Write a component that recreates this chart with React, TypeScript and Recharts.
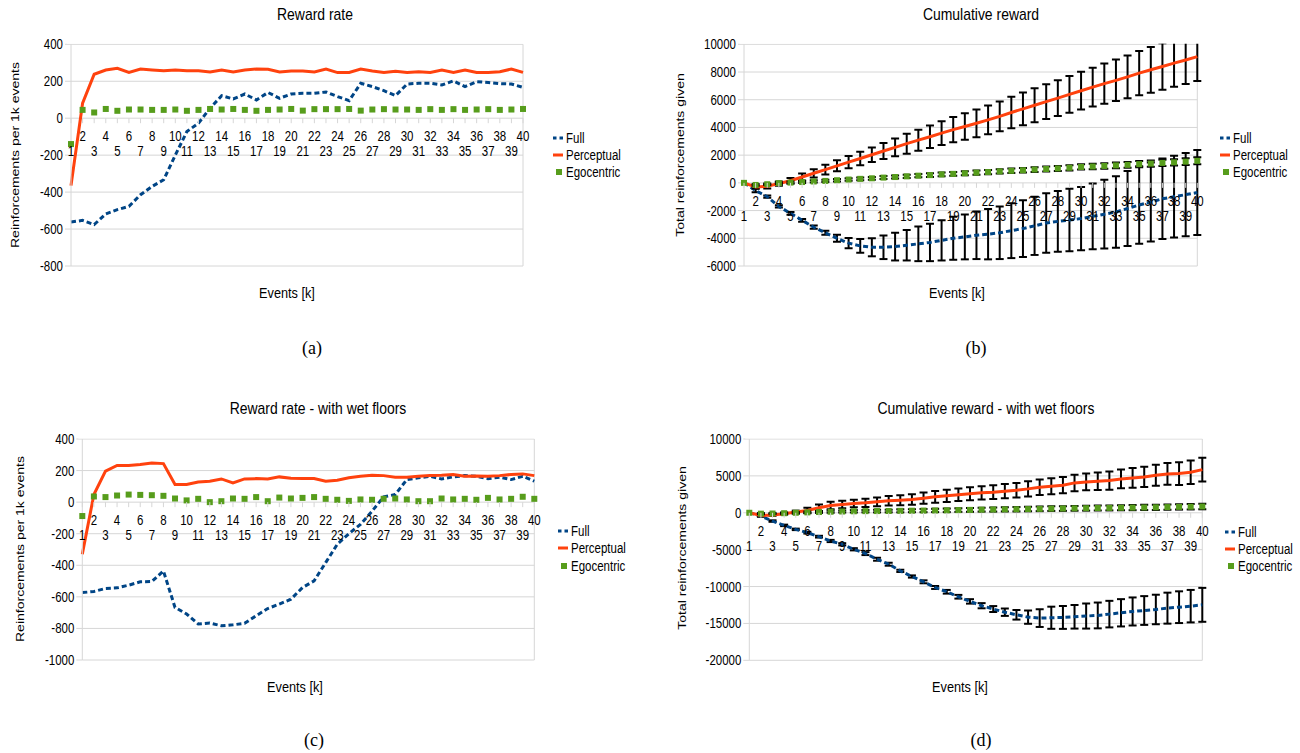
import React from "react";
import {
  LineChart,
  Line,
  XAxis,
  YAxis,
  CartesianGrid,
  ErrorBar,
  ReferenceLine,
} from "recharts";

// ── Data ───────────────────────────────────────────────────────────

const EVENTS = [
  1, 2, 3, 4, 5, 6, 7, 8, 9, 10, 11, 12, 13, 14, 15, 16, 17, 18, 19, 20,
  21, 22, 23, 24, 25, 26, 27, 28, 29, 30, 31, 32, 33, 34, 35, 36, 37, 38, 39, 40,
];

// (a) reward rate
const RATE_FULL = [
  -562, -553, -576, -518, -495, -477, -414, -369, -333, -200, -72, -27, 54, 122, 104, 131, 99, 139, 108, 131,
  135, 135, 142, 117, 95, 189, 171, 149, 122, 185, 189, 189, 180, 202, 171, 198, 193, 187, 185, 167,
];
const RATE_PERCEPTUAL = [
  -365, 81, 238, 261, 270, 248, 266, 261, 257, 261, 257, 257, 250, 261, 250, 261, 266, 265, 250, 256,
  256, 250, 266, 247, 248, 266, 256, 248, 254, 248, 252, 248, 261, 248, 261, 247, 247, 252, 266, 248,
];
const RATE_EGO = [
  -140, 45, 31, 50, 40, 47, 47, 45, 45, 47, 40, 45, 50, 47, 50, 45, 40, 45, 47, 50,
  41, 49, 49, 49, 50, 41, 47, 49, 47, 47, 45, 49, 45, 49, 45, 47, 49, 45, 47, 50,
];

// (b) cumulative reward
const CUM_FULL = [
  0, -550, -1000, -1700, -2200, -2700, -3200, -3600, -4000, -4350, -4550, -4650, -4650, -4600, -4500, -4400, -4300, -4150, -4000, -3900,
  -3780, -3700, -3600, -3450, -3300, -3100, -2900, -2780, -2680, -2580, -2420, -2260, -2100, -1850, -1600, -1380, -1150, -1000, -850, -700,
];
const CUM_FULL_ERR = [
  0, 120, 80, 80, 100, 100, 120, 150, 250, 370, 500, 650, 850, 1000, 1100, 1250, 1350, 1450, 1550, 1620,
  1720, 1820, 1900, 1980, 2050, 2100, 2150, 2200, 2250, 2290, 2380, 2480, 2580, 2700, 2800, 2850, 2900, 2950, 3000, 3070,
];
const CUM_PERCEPTUAL = [
  0, -300, -250, -50, 150, 420, 690, 960, 1230, 1500, 1760, 2030, 2300, 2560, 2830, 3080, 3330, 3590, 3840, 4070,
  4300, 4550, 4800, 5080, 5340, 5600, 5860, 6120, 6390, 6650, 6910, 7160, 7400, 7650, 7920, 8160, 8400, 8640, 8870, 9110,
];
const CUM_PERCEPTUAL_ERR = [
  0, 100, 150, 150, 200, 250, 300, 350, 400, 440, 480, 530, 580, 640, 720, 760, 810, 860, 910, 960,
  1000, 1040, 1080, 1130, 1180, 1220, 1260, 1290, 1330, 1360, 1400, 1450, 1500, 1550, 1600, 1650, 1680, 1700, 1730, 1760,
];
const CUM_EGO = [
  0, -150, -100, -20, 20, 60, 100, 140, 190, 240, 290, 330, 380, 420, 470, 520, 560, 610, 650, 690,
  740, 780, 830, 870, 910, 960, 1000, 1040, 1090, 1150, 1180, 1220, 1260, 1300, 1350, 1390, 1440, 1480, 1530, 1590,
];
const CUM_EGO_ERR = [
  0, 60, 60, 60, 70, 70, 80, 80, 90, 90, 100, 100, 110, 110, 120, 120, 130, 130, 140, 140,
  150, 150, 160, 160, 170, 170, 180, 180, 190, 190, 200, 200, 210, 210, 220, 220, 230, 230, 240, 250,
];

// (c) reward rate - with wet floors
const WET_RATE_FULL = [
  -573, -566, -547, -543, -526, -505, -503, -436, -667, -709, -772, -766, -783, -777, -768, -720, -674, -646, -615, -541,
  -499, -383, -267, -200, -141, -57, 34, 48, 143, 154, 164, 147, 160, 168, 164, 149, 158, 143, 164, 133,
];
const WET_RATE_PERCEPTUAL = [
  -330, 48, 196, 232, 232, 238, 248, 244, 112, 112, 128, 133, 147, 122, 147, 149, 147, 160, 152, 149,
  149, 133, 139, 154, 164, 170, 168, 158, 158, 164, 168, 170, 175, 164, 166, 164, 168, 175, 179, 168,
];
const WET_RATE_EGO = [
  -88, 36, 32, 42, 48, 46, 44, 40, 23, 11, 21, 0, 6, 23, 21, 32, 6, 29, 23, 27,
  32, 21, 15, 8, 17, 15, 21, 23, 17, 6, 6, 23, 17, 21, 15, 27, 17, 21, 34, 21,
];

// (d) cumulative reward - with wet floors
const WET_CUM_FULL = [
  0, -450, -1125, -1710, -2250, -2700, -3240, -3825, -4275, -4950, -5535, -6300, -6975, -7875, -8640, -9360, -10125, -10710, -11385, -12015,
  -12600, -13050, -13480, -13830, -14150, -14280, -14230, -14190, -14100, -14000, -13920, -13740, -13560, -13380, -13250, -13110, -12930, -12800, -12660, -12480,
];
const WET_CUM_FULL_ERR = [
  0, 100, 100, 100, 100, 120, 120, 150, 150, 150, 200, 200, 200, 150, 150, 200, 200, 250, 250, 300,
  350, 400, 500, 650, 900, 1200, 1500, 1550, 1600, 1700, 1750, 1800, 1850, 1900, 1950, 2000, 2100, 2150, 2200, 2300,
];
const WET_CUM_PERCEPTUAL = [
  0, -360, -315, -135, 90, 315, 675, 990, 1125, 1260, 1350, 1485, 1620, 1710, 1800, 1980, 2160, 2295, 2430, 2565,
  2700, 2790, 2925, 3060, 3240, 3465, 3600, 3735, 4050, 4185, 4275, 4365, 4590, 4725, 4860, 5085, 5265, 5310, 5490, 5850,
];
const WET_CUM_PERCEPTUAL_ERR = [
  0, 80, 100, 120, 200, 350, 450, 500, 500, 520, 560, 600, 640, 680, 720, 760, 800, 830, 850, 880,
  900, 930, 960, 990, 1020, 1050, 1080, 1100, 1120, 1140, 1180, 1230, 1280, 1330, 1380, 1430, 1480, 1530, 1580, 1620,
];
const WET_CUM_EGO = [
  0, -120, -100, -60, 0, 50, 100, 140, 170, 200, 220, 230, 240, 260, 280, 300, 310, 330, 360, 390,
  420, 440, 460, 480, 500, 530, 560, 580, 600, 620, 640, 660, 680, 700, 720, 740, 770, 800, 820, 850,
];
const WET_CUM_EGO_ERR = [
  0, 80, 80, 100, 100, 120, 120, 140, 140, 160, 160, 180, 180, 200, 200, 220, 220, 240, 240, 260,
  260, 280, 280, 300, 300, 310, 310, 320, 320, 330, 330, 340, 340, 350, 350, 360, 360, 370, 370, 380,
];

const RATE_TICKS = [-800, -600, -400, -200, 0, 200, 400];
const CUM_TICKS = [-6000, -4000, -2000, 0, 2000, 4000, 6000, 8000, 10000];
const WET_RATE_TICKS = [-1000, -800, -600, -400, -200, 0, 200, 400];
const WET_CUM_TICKS = [-20000, -15000, -10000, -5000, 0, 5000, 10000];

// ── Style ──────────────────────────────────────────────────────────

const FULL_COLOR = "#004586";
const PERC_COLOR = "#ff420e";
const EGO_COLOR = "#579d1c";
const GRID = "#d6d6d6";
const FONT = "'Liberation Sans', Arial, sans-serif";
const SERIF = "'Liberation Serif', 'Times New Roman', serif";
const SQUEEZE = 0.82; // the source figure is squeezed horizontally
const Y_AXIS_W = 60;
const X_AXIS_H = 20;

type Row = Record<string, number>;

function buildRows(
  full: number[],
  perc: number[],
  ego: number[],
  fullErr?: number[],
  percErr?: number[],
  egoErr?: number[]
): Row[] {
  return EVENTS.map((k, i) => ({
    k,
    full: full[i],
    perc: perc[i],
    ego: ego[i],
    fullErr: fullErr ? fullErr[i] : 0,
    percErr: percErr ? percErr[i] : 0,
    egoErr: egoErr ? egoErr[i] : 0,
  }));
}

const EgoDot = (p: any) => {
  if (p.cx == null || p.cy == null) return <g key={`ed${p.index}`} />;
  return (
    <rect
      key={`ed${p.index}`}
      x={p.cx - 3}
      y={p.cy - 3}
      width={6}
      height={6}
      fill={EGO_COLOR}
    />
  );
};

const YTick = (props: any) => {
  const { x, y, payload } = props;
  return (
    <text
      transform={`translate(${x},${y}) scale(${SQUEEZE},1)`}
      textAnchor="end"
      dy="0.355em"
      fontSize={14}
      fontFamily={FONT}
      fill="#000"
    >
      {payload.value}
    </text>
  );
};

interface PanelProps {
  left: number;
  top: number;
  width: number;
  height: number;
  plotLeft: number;
  plotRight: number;
  plotTop: number;
  plotBottom: number;
  rows: Row[];
  ticks: number[];
  errors?: boolean;
}

function Panel({
  left,
  top,
  width,
  height,
  plotLeft,
  plotRight,
  plotTop,
  plotBottom,
  rows,
  ticks,
  errors,
}: PanelProps) {
  const min = ticks[0];
  const max = ticks[ticks.length - 1];
  const margin = {
    top: plotTop - top,
    right: left + width - plotRight,
    bottom: top + height - plotBottom - X_AXIS_H,
    left: plotLeft - left - Y_AXIS_W,
  };
  // the category labels sit on the zero line, in two staggered rows
  const zeroY = margin.top + (plotBottom - plotTop) * (max / (max - min));

  const renderTick = (props: any) => {
    const { x, payload } = props;
    const k = Number(payload.value);
    const upper = k % 2 === 0;
    return (
      <g>
        <line x1={x} x2={x} y1={zeroY} y2={zeroY + 5} stroke={GRID} />
        <text
          transform={`translate(${x},${zeroY + (upper ? 23 : 38)}) scale(${SQUEEZE},1)`}
          textAnchor="middle"
          fontSize={14}
          fontFamily={FONT}
          fill="#000"
        >
          {k}
        </text>
      </g>
    );
  };

  // keep error bars from poking out above the plot frame
  const pl = plotLeft - left - 4;
  const pr = plotRight - left + 5;
  const pt = plotTop - top - 0.5;
  const clip = `polygon(0px 0px, ${pl}px 0px, ${pl}px ${pt}px, ${pr}px ${pt}px, ${pr}px 0px, ${width}px 0px, ${width}px ${height}px, 0px ${height}px)`;

  return (
    <div style={{ position: "absolute", left, top, width, height, clipPath: clip }}>
      <LineChart width={width} height={height} data={rows} margin={margin}>
        <CartesianGrid vertical={false} stroke={GRID} />
        <XAxis
          dataKey="k"
          type="category"
          interval={0}
          axisLine={false}
          tickLine={false}
          height={X_AXIS_H}
          tick={renderTick}
        />
        <YAxis
          type="number"
          domain={[min, max]}
          ticks={ticks}
          interval={0}
          allowDataOverflow
          width={Y_AXIS_W}
          axisLine={{ stroke: GRID }}
          tickLine={{ stroke: GRID }}
          tickSize={6}
          tickMargin={2}
          tick={YTick}
        />
        <ReferenceLine x={40} stroke={GRID} />
        <Line
          type="linear"
          dataKey="full"
          stroke={FULL_COLOR}
          strokeWidth={3}
          strokeDasharray="5 3"
          dot={false}
          activeDot={false}
          isAnimationActive={false}
        >
          {errors && (
            <ErrorBar
              dataKey="fullErr"
              direction="y"
              width={4}
              strokeWidth={2}
              stroke="#000"
              isAnimationActive={false}
            />
          )}
        </Line>
        <Line
          type="linear"
          dataKey="perc"
          stroke={PERC_COLOR}
          strokeWidth={3}
          dot={false}
          activeDot={false}
          isAnimationActive={false}
        >
          {errors && (
            <ErrorBar
              dataKey="percErr"
              direction="y"
              width={4}
              strokeWidth={2}
              stroke="#000"
              isAnimationActive={false}
            />
          )}
        </Line>
        <Line
          type="linear"
          dataKey="ego"
          stroke="transparent"
          strokeWidth={0}
          dot={EgoDot}
          activeDot={false}
          isAnimationActive={false}
        >
          {errors && (
            <ErrorBar
              dataKey="egoErr"
              direction="y"
              width={4}
              strokeWidth={2}
              stroke="#000"
              isAnimationActive={false}
            />
          )}
        </Line>
      </LineChart>
    </div>
  );
}

// ── Text helpers ───────────────────────────────────────────────────

function Text({
  x,
  y,
  size,
  font = FONT,
  rotate = false,
  squeeze = SQUEEZE,
  children,
}: {
  x: number;
  y: number;
  size: number;
  font?: string;
  rotate?: boolean;
  squeeze?: number;
  children: React.ReactNode;
}) {
  return (
    <div
      style={{
        position: "absolute",
        left: x,
        top: y,
        transform: `translate(-50%, -50%) scaleX(${squeeze})${rotate ? " rotate(-90deg)" : ""}`,
        fontFamily: font,
        fontSize: size,
        color: "#000",
        whiteSpace: "nowrap",
        lineHeight: 1,
      }}
    >
      {children}
    </div>
  );
}

function Legend({ x, y }: { x: number; y: number }) {
  const items = [
    { label: "Full", kind: "dash" },
    { label: "Perceptual", kind: "line" },
    { label: "Egocentric", kind: "square" },
  ];
  return (
    <>
      {items.map((it, i) => (
        <div
          key={it.label}
          style={{
            position: "absolute",
            left: x - 13,
            top: y + i * 17.3 - 8,
            height: 16,
            display: "flex",
            alignItems: "center",
            whiteSpace: "nowrap",
          }}
        >
          <svg width={13} height={16}>
            {it.kind === "dash" && (
              <line x1={0} x2={10} y1={8} y2={8} stroke={FULL_COLOR} strokeWidth={3} strokeDasharray="3.5 3" />
            )}
            {it.kind === "line" && (
              <line x1={0} x2={10} y1={8} y2={8} stroke={PERC_COLOR} strokeWidth={3} />
            )}
            {it.kind === "square" && <rect x={3} y={5} width={6} height={6} fill={EGO_COLOR} />}
          </svg>
          <span
            style={{
              display: "inline-block",
              fontFamily: FONT,
              fontSize: 14,
              color: "#000",
              transform: `scaleX(${SQUEEZE})`,
              transformOrigin: "left center",
            }}
          >
            {it.label}
          </span>
        </div>
      ))}
    </>
  );
}

// ── Page ───────────────────────────────────────────────────────────

export default function App() {
  const rateRows = buildRows(RATE_FULL, RATE_PERCEPTUAL, RATE_EGO);
  const cumRows = buildRows(
    CUM_FULL,
    CUM_PERCEPTUAL,
    CUM_EGO,
    CUM_FULL_ERR,
    CUM_PERCEPTUAL_ERR,
    CUM_EGO_ERR
  );
  const wetRateRows = buildRows(WET_RATE_FULL, WET_RATE_PERCEPTUAL, WET_RATE_EGO);
  const wetCumRows = buildRows(
    WET_CUM_FULL,
    WET_CUM_PERCEPTUAL,
    WET_CUM_EGO,
    WET_CUM_FULL_ERR,
    WET_CUM_PERCEPTUAL_ERR,
    WET_CUM_EGO_ERR
  );

  return (
    <div
      style={{
        position: "absolute",
        left: 0,
        top: 0,
        width: 1300,
        height: 753,
        background: "#fff",
        overflow: "hidden",
      }}
    >
      {/* (a) */}
      <Panel
        left={0}
        top={30}
        width={650}
        height={260}
        plotLeft={71}
        plotRight={523}
        plotTop={44.3}
        plotBottom={266}
        rows={rateRows}
        ticks={RATE_TICKS}
      />
      <Text x={315} y={14} size={17}>Reward rate</Text>
      <Text x={287} y={293} size={15.5}>Events [k]</Text>
      <Text x={15} y={155} size={14} rotate>
        Reinforcements per 1k events
      </Text>
      <Legend x={566} y={137.7} />
      <Text x={312} y={348} size={18} font={SERIF} squeeze={1}>(a)</Text>

      {/* (b) */}
      <Panel
        left={660}
        top={30}
        width={640}
        height={260}
        plotLeft={744}
        plotRight={1197.3}
        plotTop={44.3}
        plotBottom={266}
        rows={cumRows}
        ticks={CUM_TICKS}
        errors
      />
      <Text x={981} y={14} size={17}>Cumulative reward</Text>
      <Text x={957} y={293} size={15.5}>Events [k]</Text>
      <Text x={680} y={155} size={14} rotate>
        Total reinforcements given
      </Text>
      <Legend x={1233} y={137.7} />
      <Text x={976} y={348} size={18} font={SERIF} squeeze={1}>(b)</Text>

      {/* (c) */}
      <Panel
        left={0}
        top={425}
        width={650}
        height={260}
        plotLeft={82.3}
        plotRight={534.3}
        plotTop={439}
        plotBottom={660}
        rows={wetRateRows}
        ticks={WET_RATE_TICKS}
      />
      <Text x={318} y={408} size={17}>Reward rate - with wet floors</Text>
      <Text x={295} y={687} size={15.5}>Events [k]</Text>
      <Text x={20} y={549} size={14} rotate>
        Reinforcements per 1k events
      </Text>
      <Legend x={571} y={531} />
      <Text x={314} y={740} size={18} font={SERIF} squeeze={1}>(c)</Text>

      {/* (d) */}
      <Panel
        left={660}
        top={425}
        width={640}
        height={260}
        plotLeft={749.3}
        plotRight={1202.3}
        plotTop={439}
        plotBottom={660.3}
        rows={wetCumRows}
        ticks={WET_CUM_TICKS}
        errors
      />
      <Text x={986} y={408} size={17}>Cumulative reward - with wet floors</Text>
      <Text x={960} y={687} size={15.5}>Events [k]</Text>
      <Text x={682} y={548} size={14} rotate>
        Total reinforcements given
      </Text>
      <Legend x={1238} y={531.7} />
      <Text x={981} y={740} size={18} font={SERIF} squeeze={1}>(d)</Text>
    </div>
  );
}
